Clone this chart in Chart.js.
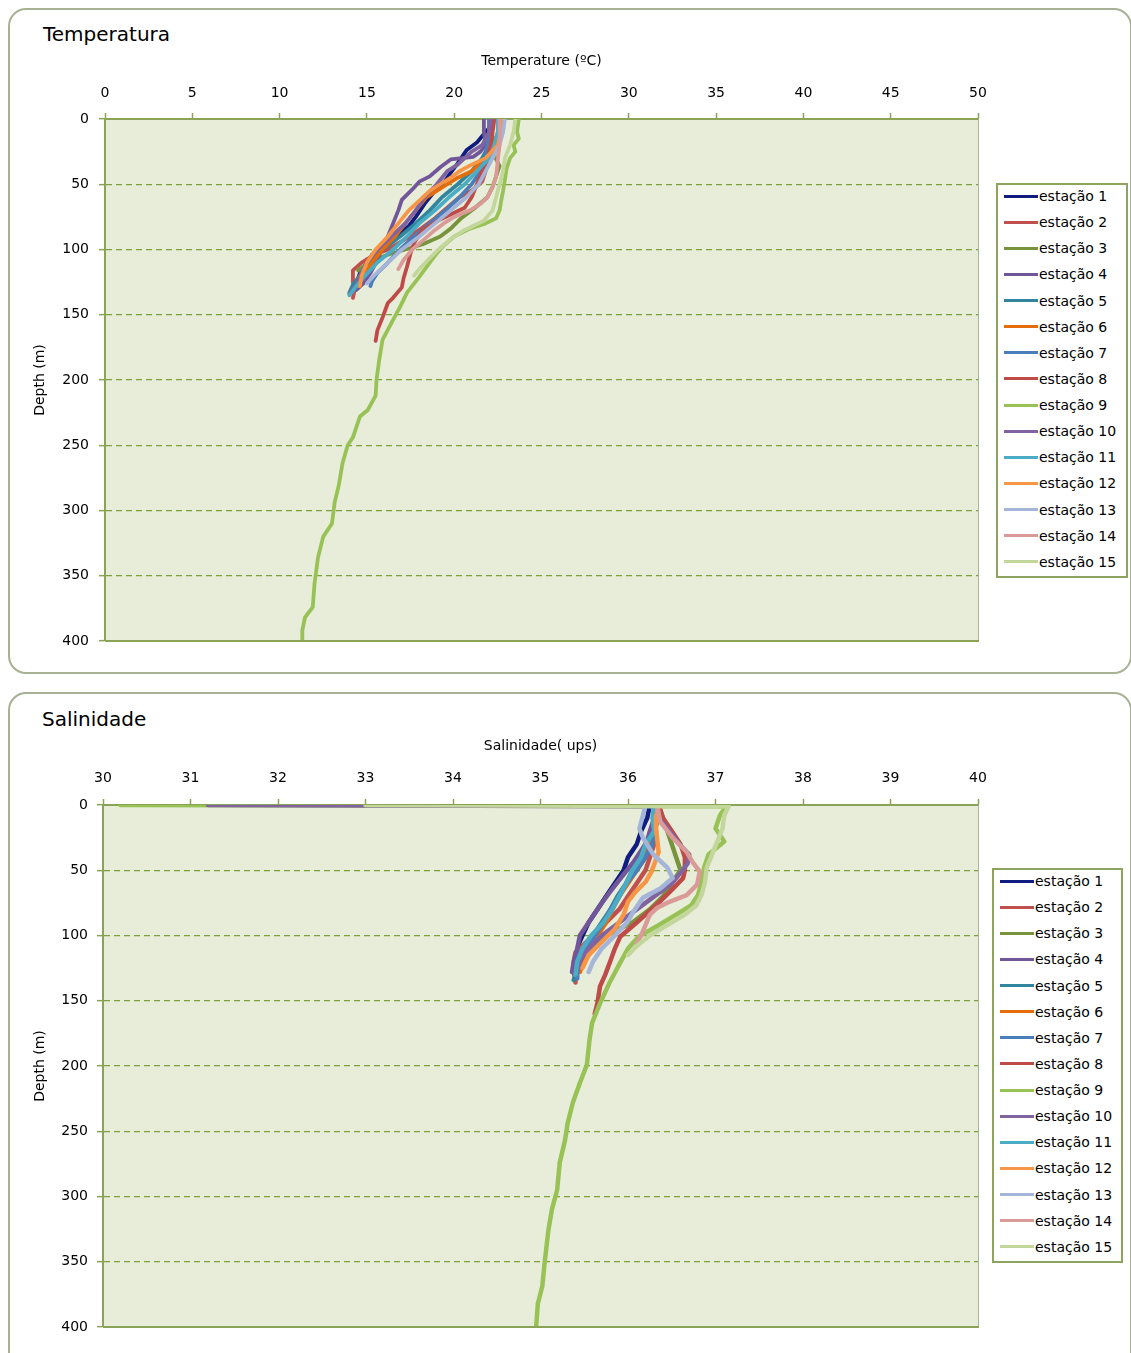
<!DOCTYPE html>
<html>
<head>
<meta charset="utf-8">
<script src="https://cdn.jsdelivr.net/npm/chart.js@4.4.0/dist/chart.umd.min.js"></script>
<style>
  html, body { margin: 0; padding: 0; overflow: hidden; background: #fff; }
  body { width: 1131px; height: 1353px; position: relative; font-family: 'DejaVu Sans', sans-serif; color: #000; }
  .card { position: absolute; left: 8px; width: 1124px; border: 2px solid #a8b193; border-radius: 18px; box-sizing: border-box; }
  .ttl { position: absolute; font-size: 20px; line-height: 20px; white-space: nowrap; }
  canvas { position: absolute; left: 0; }
  .legend { position: absolute; background: #fff; border: 2px solid #8ea35e; box-sizing: border-box; }
  .legend .rows { position: relative; top: -2px; }
  .legend .row { height: 26.14px; display: flex; align-items: center; font-size: 14px; white-space: nowrap; }
  .legend .sw { display: inline-block; width: 34px; height: 3px; margin-left: 6px; margin-right: 1px; }
</style>
</head>
<body>
<div class="card" style="top:8px;height:666px"></div>
<div class="card" style="top:692px;height:700px"></div>
<div class="ttl" style="left:43px;top:24px">Temperatura</div>
<div class="ttl" style="left:42px;top:709px">Salinidade</div>
<canvas id="grafTemp" width="1131" height="680" style="top:0"></canvas>
<canvas id="grafSal" width="1131" height="673" style="top:680px"></canvas>
<div class="legend" style="left:996px;top:183px;width:132px;height:395px"><div class="rows" id="legTemp"></div></div>
<div class="legend" style="left:992px;top:868px;width:131px;height:395px"><div class="rows" id="legSal"></div></div>
<script>
const estacoes = ['estação 1', 'estação 2', 'estação 3', 'estação 4', 'estação 5', 'estação 6', 'estação 7', 'estação 8',
  'estação 9', 'estação 10', 'estação 11', 'estação 12', 'estação 13', 'estação 14', 'estação 15'];
const cores = ['#101c80', '#c0504d', '#77933c', '#71579a', '#31859c', '#e46c0a', '#4a7ebb', '#be4b48',
  '#98c255', '#8064a2', '#4bacc6', '#f79646', '#a5b5d9', '#d99a98', '#c3d69b'];

const ticksTemp = [0, 5, 10, 15, 20, 25, 30, 35, 40, 45, 50];
const ticksSal = [30, 31, 32, 33, 34, 35, 36, 37, 38, 39, 40];
const ticksProf = [0, 50, 100, 150, 200, 250, 300, 350, 400];

// temperatura: [profundidade (m), ºC]
const temp1 = [[0,22.2],[4,22.2],[10,21.8],[18,21.3],[24,20.7],[34,20.2],[41,19.8],[47,19.5],[55,18.9],[65,18.3],[75,17.8],[82,17.4],[90,16.7],[98,16.0],[104,15.3],[110,15.0],[118,14.6],[126,14.4],[131,14.2]];
const temp2 = [[0,22.0],[10,22.0],[20,21.9],[30,21.9],[40,21.8],[48,21.6],[55,21.0],[60,20.3],[68,19.6],[76,18.9],[84,18.1],[92,17.2],[100,16.2],[105,15.3],[110,14.7],[116,14.2],[125,14.2],[131,14.3],[137,14.2]];
const temp3 = [[0,22.3],[10,22.1],[20,22.4],[28,22.3],[36,22.6],[44,22.4],[52,22.2],[60,21.9],[68,21.2],[76,20.4],[84,19.8],[90,19.2],[96,18.2],[100,17.2],[104,16.2],[108,15.4],[112,14.9],[116,14.5]];
const temp4 = [[0,21.7],[10,21.7],[20,21.8],[25,21.5],[29,21.1],[31,19.8],[37,19.2],[44,18.6],[48,18.0],[54,17.6],[62,17.0],[70,16.8],[80,16.5],[90,16.2],[98,15.9],[108,15.6],[118,15.2],[126,14.8],[131,14.4]];
const temp5 = [[0,22.2],[10,22.1],[20,22.0],[30,21.6],[40,21.0],[50,20.2],[60,19.3],[70,18.6],[80,17.8],[90,16.9],[100,15.9],[110,15.0],[120,14.6],[127,14.2],[133,14.0]];
const temp6 = [[0,22.6],[10,22.5],[20,22.3],[30,21.8],[40,21.0],[45,20.2],[50,19.6],[55,19.0],[60,18.4],[70,17.8],[80,17.2],[90,16.6],[100,15.9],[110,15.3],[120,14.8],[128,14.5]];
const temp7 = [[0,22.0],[10,22.0],[20,21.9],[30,21.8],[40,21.5],[50,21.0],[60,20.3],[70,19.5],[80,18.6],[90,17.7],[100,16.9],[110,16.2],[118,15.6],[124,15.3],[128,15.2]];
const temp8 = [[0,22.3],[10,22.2],[20,22.1],[30,21.9],[40,21.6],[50,21.3],[60,21.0],[68,20.6],[77,19.2],[85,18.2],[95,17.7],[103,17.5],[113,17.3],[122,17.1],[129,17.0],[137,16.5],[141,16.2],[152,15.9],[162,15.6],[170,15.5]];
const temp9 = [[0,23.7],[10,23.6],[15,23.7],[20,23.4],[25,23.5],[30,23.2],[38,23.0],[47,22.9],[55,22.8],[62,22.7],[70,22.6],[76,22.4],[80,21.8],[84,20.9],[90,20.0],[97,19.4],[103,19.0],[110,18.6],[121,18.0],[133,17.3],[144,16.9],[154,16.5],[169,15.9],[185,15.7],[200,15.55],[212,15.5],[223,15.05],[228,14.6],[244,14.2],[250,13.9],[264,13.6],[280,13.4],[294,13.15],[310,13.0],[320,12.5],[336,12.2],[356,12.0],[374,11.9],[382,11.45],[392,11.3],[400,11.3]];
const temp10 = [[0,22.1],[10,22.0],[20,21.6],[25,21.0],[30,20.6],[35,20.2],[40,19.6],[45,19.3],[50,19.0],[60,18.3],[70,17.8],[80,17.2],[90,16.4],[100,15.6],[110,15.0],[120,14.6],[127,14.4],[134,14.0]];
const temp11 = [[0,22.5],[10,22.5],[20,22.3],[30,22.0],[40,21.3],[50,20.6],[60,19.7],[70,18.9],[80,18.0],[90,17.3],[100,16.5],[110,15.6],[120,14.9],[128,14.4],[135,14.0]];
const temp12 = [[0,22.8],[10,22.7],[20,22.5],[30,21.8],[35,21.0],[40,20.3],[45,19.8],[50,19.2],[55,18.6],[60,18.2],[70,17.4],[80,16.8],[90,16.2],[100,15.5],[110,15.0],[120,14.7],[128,14.6]];
const temp13 = [[0,22.9],[10,22.8],[20,22.6],[30,22.2],[40,21.8],[50,21.4],[60,20.7],[70,19.8],[80,18.9],[90,18.0],[100,17.0],[110,16.2],[120,15.4],[126,15.0]];
const temp14 = [[0,22.6],[10,22.6],[20,22.6],[31,22.5],[44,22.4],[52,22.2],[60,21.9],[65,21.5],[70,20.9],[75,20.0],[80,19.4],[85,18.9],[92,18.3],[100,17.6],[108,17.1],[115,16.8]];
const temp15 = [[0,23.5],[10,23.4],[20,23.2],[30,22.9],[40,22.8],[50,22.6],[60,22.4],[70,22.2],[78,21.7],[85,20.6],[92,19.8],[100,19.1],[108,18.5],[115,18.0],[120,17.7]];

// salinidade: [profundidade (m), ups]
const sal1 = [[0,36.25],[10,36.22],[20,36.15],[30,36.1],[40,36.0],[50,35.95],[60,35.85],[70,35.75],[80,35.65],[90,35.55],[100,35.48],[106,35.44],[112,35.42],[120,35.4],[128,35.38],[132,35.4]];
const sal2 = [[0,36.3],[10,36.3],[20,36.32],[30,36.3],[40,36.25],[50,36.2],[60,36.1],[70,36.0],[80,35.9],[90,35.75],[100,35.6],[108,35.48],[113,35.4],[120,35.38],[128,35.39],[136,35.4]];
const sal3 = [[0,36.35],[10,36.4],[20,36.45],[30,36.5],[40,36.55],[50,36.6],[60,36.5],[70,36.4],[80,36.25],[90,36.05],[95,35.9],[100,35.75],[110,35.6],[120,35.5],[127,35.45]];
const sal4 = [[0,36.3],[10,36.3],[20,36.25],[27,36.22],[33,36.17],[44,36.06],[54,35.94],[67,35.79],[77,35.68],[87,35.58],[100,35.45],[110,35.42],[120,35.38],[128,35.36]];
const sal5 = [[0,36.3],[10,36.35],[20,36.3],[30,36.25],[40,36.2],[50,36.05],[60,35.98],[70,35.88],[80,35.8],[90,35.7],[100,35.6],[110,35.5],[120,35.43],[130,35.4],[134,35.38]];
const sal6 = [[0,36.35],[10,36.3],[20,36.3],[30,36.25],[40,36.2],[50,36.1],[60,36.0],[70,35.9],[80,35.82],[90,35.75],[100,35.65],[110,35.55],[120,35.48],[128,35.45]];
const sal7 = [[0,36.3],[10,36.32],[20,36.3],[30,36.28],[40,36.2],[50,36.1],[60,35.98],[70,35.9],[80,35.8],[90,35.72],[100,35.62],[110,35.52],[120,35.45],[128,35.42],[133,35.42]];
const sal8 = [[0,36.35],[10,36.4],[20,36.5],[30,36.6],[40,36.65],[50,36.65],[56,36.63],[65,36.5],[75,36.35],[90,36.1],[101,35.91],[110,35.85],[121,35.79],[130,35.74],[139,35.68],[152,35.65],[160,35.62]];
const sal9 = [[0,30.2],[1,37.12],[8,37.05],[18,37.0],[28,37.1],[38,36.92],[48,36.87],[59,36.84],[69,36.8],[77,36.72],[84,36.55],[92,36.35],[101,36.12],[110,36.0],[121,35.91],[136,35.79],[152,35.68],[167,35.59],[180,35.56],[199,35.53],[213,35.45],[228,35.37],[244,35.31],[257,35.28],[274,35.22],[295,35.19],[310,35.13],[326,35.09],[349,35.05],[369,35.02],[382,34.97],[400,34.95]];
const sal10 = [[0,31.2],[1,36.3],[10,36.35],[18,36.45],[31,36.6],[38,36.7],[45,36.68],[52,36.6],[60,36.5],[70,36.3],[80,36.1],[90,35.9],[100,35.7],[110,35.55],[120,35.45],[130,35.4]];
const sal11 = [[0,36.3],[10,36.28],[20,36.3],[30,36.2],[40,36.15],[50,36.05],[60,35.98],[70,35.9],[80,35.82],[90,35.72],[100,35.58],[110,35.48],[120,35.42],[130,35.4]];
const sal12 = [[0,36.35],[8,36.33],[18,36.32],[36,36.35],[51,36.27],[59,36.2],[67,36.08],[74,36.0],[84,35.95],[95,35.85],[105,35.7],[115,35.55],[125,35.48]];
const sal13 = [[0,36.2],[8,36.17],[18,36.13],[25,36.17],[38,36.29],[48,36.45],[56,36.51],[64,36.37],[71,36.17],[82,36.06],[90,35.99],[100,35.85],[110,35.7],[120,35.6],[128,35.55]];
const sal14 = [[0,36.33],[13,36.37],[25,36.51],[36,36.67],[44,36.74],[51,36.82],[61,36.79],[69,36.67],[74,36.48],[79,36.33],[84,36.25],[92,36.2],[100,36.15],[106,36.1]];
const sal15 = [[0,33.0],[1,37.15],[8,37.1],[18,37.08],[28,37.02],[38,36.96],[48,36.9],[59,36.88],[69,36.84],[77,36.78],[84,36.65],[92,36.45],[100,36.25],[108,36.1],[115,36.0]];

const seriesTemp = [temp1, temp2, temp3, temp4, temp5, temp6, temp7, temp8, temp9, temp10, temp11, temp12, temp13, temp14, temp15];
const seriesSal = [sal1, sal2, sal3, sal4, sal5, sal6, sal7, sal8, sal9, sal10, sal11, sal12, sal13, sal14, sal15];

const verde = '#8aa356';
const verdeGrade = '#7d9f3c';
const fonte = { family: "'DejaVu Sans', sans-serif", size: 14 };

// fundo da área do gráfico e bordas direita/inferior
const fundoPlot = {
  id: 'fundoPlot',
  beforeDraw(chart) {
    const { ctx, chartArea: a } = chart;
    ctx.save();
    ctx.fillStyle = '#e7edd9';
    ctx.fillRect(a.left, a.top, a.right - a.left, a.bottom - a.top);
    ctx.restore();
  },
  afterDatasetsDraw(chart) {
    const { ctx, chartArea: a } = chart;
    ctx.save();
    ctx.strokeStyle = '#a9b39a';
    ctx.lineWidth = 1;
    ctx.beginPath();
    ctx.moveTo(a.right + 0.5, a.top);
    ctx.lineTo(a.right + 0.5, a.bottom);
    ctx.stroke();
    ctx.strokeStyle = verde;
    ctx.lineWidth = 2;
    ctx.beginPath();
    ctx.moveTo(a.left, a.bottom);
    ctx.lineTo(a.right + 1, a.bottom);
    ctx.stroke();
    ctx.restore();
  }
};

function montarDatasets(series, espessura) {
  return series.map((s, i) => ({
    label: estacoes[i],
    data: s.map(p => ({ x: p[1], y: p[0] })),
    borderColor: cores[i],
    backgroundColor: cores[i],
    borderWidth: espessura,
    borderJoinStyle: 'round',
    borderCapStyle: 'round',
    pointRadius: 0,
    showLine: true,
    tension: 0,
    order: series.length - i
  }));
}

function criarGrafico(id, series, ticksX, tituloX, cfg) {
  return new Chart(document.getElementById(id), {
    type: 'scatter',
    data: { datasets: montarDatasets(series, cfg.linha) },
    options: {
      responsive: false,
      animation: false,
      devicePixelRatio: 1,
      layout: { padding: { left: 0, top: 0, right: cfg.right, bottom: cfg.bottom } },
      plugins: { legend: { display: false }, tooltip: { enabled: false } },
      scales: {
        x: {
          type: 'linear',
          position: 'top',
          min: ticksX[0],
          max: ticksX[ticksX.length - 1],
          afterBuildTicks: ax => { ax.ticks = ticksX.map(v => ({ value: v })); },
          afterFit: ax => { ax.height = cfg.top; },
          grid: { drawOnChartArea: false, drawTicks: true, tickLength: 6, tickColor: verde, tickWidth: 1.5 },
          border: { display: true, color: verde, width: 2 },
          ticks: { color: '#000', padding: cfg.xPad, font: fonte, maxRotation: 0, autoSkip: false },
          title: { display: true, text: tituloX, color: '#000', font: fonte, padding: { top: cfg.titlePad, bottom: 0 } }
        },
        y: {
          type: 'linear',
          reverse: true,
          min: 0,
          max: 400,
          afterBuildTicks: ax => { ax.ticks = ticksProf.map(v => ({ value: v })); },
          afterFit: ax => { ax.width = cfg.left; },
          grid: { color: verdeGrade, lineWidth: 1.3, drawTicks: true, tickLength: 6, tickColor: verde, tickWidth: 1.5 },
          border: { display: true, color: verde, width: 2, dash: [6, 4] },
          ticks: { color: '#000', padding: cfg.yPad, font: fonte, autoSkip: false },
          title: { display: true, text: 'Depth (m)', color: '#000', font: fonte, padding: { top: 31.6, bottom: 0 } }
        }
      }
    },
    plugins: [fundoPlot]
  });
}

function montarLegenda(id) {
  const box = document.getElementById(id);
  estacoes.forEach((nome, i) => {
    const row = document.createElement('div');
    row.className = 'row';
    row.innerHTML = `<span class="sw" style="background:${cores[i]}"></span>${nome}`;
    box.appendChild(row);
  });
}

criarGrafico('grafTemp', seriesTemp, ticksTemp, 'Temperature (ºC)',
  { top: 119, left: 105, right: 153, bottom: 39, xPad: 11.6, yPad: 10, titlePad: 53.2, linha: 3.8 });
criarGrafico('grafSal', seriesSal, ticksSal, 'Salinidade( ups)',
  { top: 125, left: 103, right: 153, bottom: 26, xPad: 12.6, yPad: 9, titlePad: 58.2, linha: 4.5 });
montarLegenda('legTemp');
montarLegenda('legSal');
</script>
</body>
</html>
